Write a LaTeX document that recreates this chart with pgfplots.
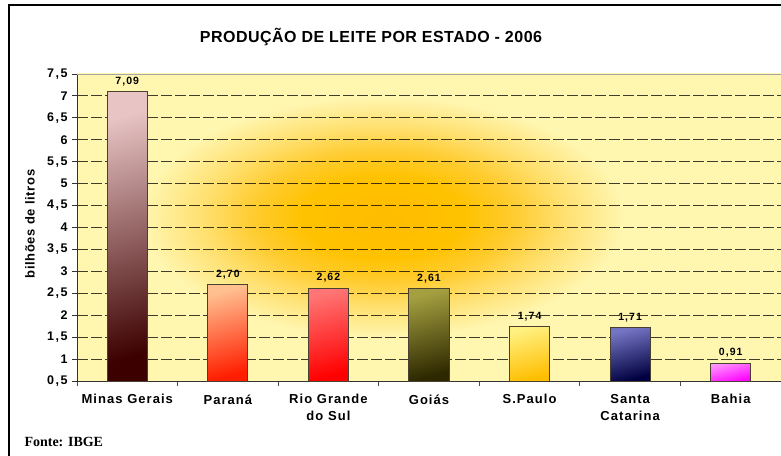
\documentclass[border=0pt]{standalone}
\usepackage{fontspec}
\setmainfont{Liberation Sans}
\newfontfamily\tickfont{Liberation Sans}[LetterSpace=12]
\newfontfamily\valfont{Liberation Sans}[LetterSpace=10]
\newfontfamily\catfont{Liberation Sans}[LetterSpace=8]
\newfontfamily\ylfont{Liberation Sans}[LetterSpace=5]
\newfontfamily\titfont{Liberation Sans}[LetterSpace=3]
\newfontfamily\serf{Liberation Serif}
\usepackage{pgfplots}
\pgfplotsset{compat=1.18}

\definecolor{bgA}{HTML}{FFBC00}
\definecolor{bgA2}{HTML}{FFC200}
\definecolor{bgB}{HTML}{FFCC30}
\definecolor{bgC}{HTML}{FFE070}
\definecolor{bgD}{HTML}{FFF6B0}
\pgfdeclareradialshading{bgshade}{\pgfpoint{0bp}{0bp}}{color(0bp)=(bgA); color(8bp)=(bgA2); color(13bp)=(bgB); color(18bp)=(bgC); color(24bp)=(bgD); color(50bp)=(bgD)}

\definecolor{barline}{HTML}{4A4030}
\definecolor{mgT}{HTML}{E8C4C4}\definecolor{mgM}{HTML}{C89696}\definecolor{mgB}{HTML}{3C0000}
\definecolor{prT}{HTML}{FFC090}\definecolor{prM}{HTML}{FF8A5A}\definecolor{prB}{HTML}{FF1E00}
\definecolor{rsT}{HTML}{FF7474}\definecolor{rsM}{HTML}{FF3A3A}\definecolor{rsB}{HTML}{FF0000}
\definecolor{goT}{HTML}{A4A040}\definecolor{goM}{HTML}{7A761E}\definecolor{goB}{HTML}{2E2800}
\definecolor{spT}{HTML}{FFF080}\definecolor{spM}{HTML}{FFDC48}\definecolor{spB}{HTML}{FFBE00}
\definecolor{scT}{HTML}{7474C4}\definecolor{scM}{HTML}{40409A}\definecolor{scB}{HTML}{000040}
\definecolor{baT}{HTML}{FF96FF}\definecolor{baM}{HTML}{FF50FF}\definecolor{baB}{HTML}{FF00FF}

\begin{document}
\begin{tikzpicture}[x=1pt,y=1pt]
\useasboundingbox (0,0) rectangle (781,455);
\fill[white] (0,0) rectangle (781,455);
\draw[black, line width=2.5pt] (8.75,-5) -- (8.75,450) -- (790,450);
\node[font=\titfont\bfseries\fontsize{16}{19}\selectfont] at (371,418) {PRODUÇÃO DE LEITE POR ESTADO - 2006};
\node[font=\ylfont\bfseries\fontsize{13}{15}\selectfont, rotate=90] at (30,231) {bilhões de litros};
\node[font=\serf\bfseries\fontsize{14}{16}\selectfont, anchor=base west] at (21,9) {Fonte: IBGE};
\begin{axis}[
  at={(77pt,74pt)}, anchor=south west, scale only axis,
  width=704pt, height=307pt,
  xmin=-0.5, xmax=6.5, ymin=0.5, ymax=7.5,
  axis x line*=bottom, axis y line*=left,
  axis line style={-, draw=black!80, line width=0.9pt},
  ytick={0.5,1,1.5,2,2.5,3,3.5,4,4.5,5,5.5,6,6.5,7,7.5},
  /pgf/number format/use comma,
  /pgf/number format/assume math mode=true,
  yticklabel style={font=\tickfont\bfseries\fontsize{12.5}{14}\selectfont, xshift=-1pt},
  tick align=outside,
  major tick length=5pt,
  minor tick length=5pt,
  y tick style={draw=black!80, line width=0.9pt},
  xtick={0,1,2,3,4,5,6},
  xticklabels={Minas Gerais, Paraná, {Rio Grande\\do Sul}, Goiás, S.Paulo, {Santa\\Catarina}, Bahia},
  major x tick style={draw=none},
  minor xtick={-0.5,0.5,1.5,2.5,3.5,4.5,5.5,6.5},
  minor x tick style={draw=black!70, line width=0.9pt},
  xticklabel style={font=\catfont\bfseries\fontsize{13}{17}\selectfont, align=center, yshift=-5pt},
  ymajorgrids,
  grid style={black, opacity=0.75, dash pattern=on 11pt off 3pt, line width=0.9pt},
  axis background/.style={fill=bgD, path picture={\node[inner sep=0pt, outer sep=0pt, anchor=center, transform shape, xscale=10, yscale=5] at ([xshift=-46pt,yshift=10.5pt]path picture bounding box.center) {\pgfuseshading{bgshade}};}},
  ybar, bar width=0.4, bar shift=0pt,
  nodes near coords={\pgfmathprintnumber[fixed,fixed zerofill,precision=2,use comma]{\pgfplotspointmeta}},
  nodes near coords style={font=\valfont\bfseries\fontsize{10.5}{12}\selectfont, text=black, yshift=2pt},
  every axis plot/.append style={draw=barline, line width=1pt},
  after end axis/.code={\draw[draw=black!35, line width=0.9pt] (rel axis cs:0,1) -- (rel axis cs:1,1);},
]
\addplot[top color=mgT, middle color=mgM, bottom color=mgB, shading angle=15] coordinates {(0,7.09)};
\addplot[top color=prT, middle color=prM, bottom color=prB, shading angle=15] coordinates {(1,2.70)};
\addplot[top color=rsT, middle color=rsM, bottom color=rsB, shading angle=15] coordinates {(2,2.62)};
\addplot[top color=goT, middle color=goM, bottom color=goB, shading angle=15] coordinates {(3,2.61)};
\addplot[top color=spT, middle color=spM, bottom color=spB, shading angle=15] coordinates {(4,1.74)};
\addplot[top color=scT, middle color=scM, bottom color=scB, shading angle=15] coordinates {(5,1.71)};
\addplot[top color=baT, middle color=baM, bottom color=baB, shading angle=15] coordinates {(6,0.91)};
\end{axis}
\end{tikzpicture}
\end{document}
